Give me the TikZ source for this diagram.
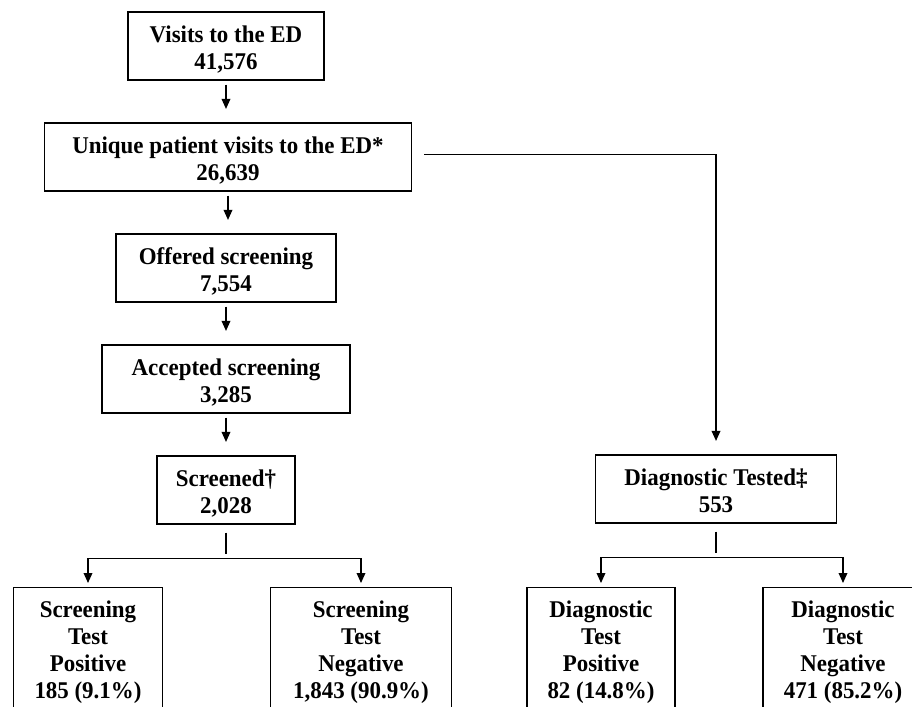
\documentclass[tikz,border=0pt]{standalone}
\usepackage{fontspec}
\setmainfont[FakeStretch=0.955]{Liberation Serif}
\usetikzlibrary{arrows.meta,positioning}

% struts for the first and the last line of a box
\newcommand{\boxtop}{\rule{0pt}{18pt}}
\newcommand{\boxbot}{\rule[-3pt]{0pt}{0pt}}

\tikzset{
  box/.style={draw,line width=1.1pt,align=center,inner sep=0pt,
    font=\fontsize{18}{20.25}\selectfont\bfseries},
  outbox/.style={box,anchor=north,inner ysep=4.5pt},
  arr/.style={-{Triangle[width=6.5pt,length=7.5pt]},line width=1pt},
  link/.style={line width=1pt}
}

\begin{document}
\begin{tikzpicture}[x=0.75pt,y=-0.75pt]
  \useasboundingbox (0,0) rectangle (912,706);
  % main column
  \node[box,minimum width=147pt,minimum height=51pt] (visits) at (226,46) {\boxtop Visits to the ED\\41,576\boxbot};
  \node[box,minimum width=275pt,minimum height=51pt] (unique) at (228,157) {\boxtop Unique patient visits to the ED*\\26,639\boxbot};
  \node[box,minimum width=165pt,minimum height=51pt] (offered) at (226,268) {\boxtop Offered screening\\7,554\boxbot};
  \node[box,minimum width=186pt,minimum height=51pt] (accepted) at (226,379) {\boxtop Accepted screening\\3,285\boxbot};
  \node[box,minimum width=103.5pt,minimum height=51pt] (screened) at (226,490) {\boxtop Screened†\\2,028\boxbot};
  \node[box,minimum width=180.75pt,minimum height=51pt] (diag) at (716,489) {\boxtop Diagnostic Tested‡\\553\boxbot};
  % outcome boxes
  \node[outbox,minimum width=111.75pt] (scrpos) at (88,587) {\boxtop Screening\\Test\\Positive\\185 (9.1\%)\boxbot};
  \node[outbox,minimum width=135.75pt] (scrneg) at (361,587) {\boxtop Screening\\Test\\Negative\\1,843 (90.9\%)\boxbot};
  \node[outbox,minimum width=111pt] (diagpos) at (601,587) {\boxtop Diagnostic\\Test\\Positive\\82 (14.8\%)\boxbot};
  \node[outbox,minimum width=120pt] (diagneg) at (843,587) {\boxtop Diagnostic\\Test\\Negative\\471 (85.2\%)\boxbot};

  \draw[arr,shorten <=3pt,shorten >=10pt] (visits) -- (visits |- unique.north);
  \draw[arr,shorten <=3pt,shorten >=10pt] (unique) -- (unique |- offered.north);
  \draw[arr,shorten <=3pt,shorten >=10pt] (offered) -- (offered |- accepted.north);
  \draw[arr,shorten <=3pt,shorten >=10pt] (accepted) -- (accepted |- screened.north);
  \draw[arr,shorten >=10pt] ([xshift=9pt,yshift=2pt]unique.east) -| (diag.north);

  % forks
  \draw[link] ([yshift=-6pt]screened.south) -- ++(0,21);
  \coordinate (scrfork) at ([yshift=-25.5pt]screened.south);
  \draw[arr,shorten >=3pt] (scrfork) -| (scrpos.north);
  \draw[arr,shorten >=3pt] (scrfork) -| (scrneg.north);
  \draw[link] ([yshift=-6pt]diag.south) -- ++(0,21);
  \coordinate (diagfork) at ([yshift=-25.5pt]diag.south);
  \draw[arr,shorten >=3pt] (diagfork) -| (diagpos.north);
  \draw[arr,shorten >=3pt] (diagfork) -| (diagneg.north);
\end{tikzpicture}
\end{document}
